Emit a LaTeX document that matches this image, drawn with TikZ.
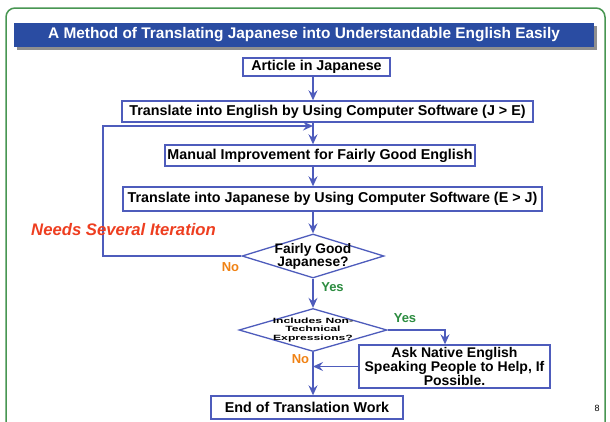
\documentclass[tikz,border=0pt]{standalone}
\usepackage{fontspec}
\setmainfont{Liberation Sans}
\newfontfamily\widefont[FakeStretch=1.6]{Liberation Sans}
\usetikzlibrary{arrows.meta,shapes.geometric,shadows,calc}
\definecolor{lineblue}{RGB}{78,92,188}
\definecolor{titleblue}{RGB}{42,76,162}
\definecolor{framegreen}{RGB}{72,150,82}
\definecolor{itred}{RGB}{238,62,32}
\definecolor{noorange}{RGB}{240,130,20}
\definecolor{yesgreen}{RGB}{44,140,64}
\begin{document}
\begin{tikzpicture}[x=1pt,y=-1pt,
  stepbox/.style={draw=lineblue, line width=1.4pt, fill=white, inner sep=0pt,
    font=\bfseries\fontsize{14.3}{13}\selectfont, text=black, align=center},
  decision/.style={diamond, draw=lineblue, line width=1.3pt, fill=white, inner sep=0pt},
  dtext/.style={inner sep=0pt, align=center, text=black},
  conn/.style={draw=lineblue, line width=1.5pt},
  arr/.style={conn, -{Stealth[length=10pt,width=9pt,inset=3.5pt]}},
  nolabel/.style={inner sep=0pt, text=noorange, font=\bfseries\fontsize{13}{13}\selectfont},
  yeslabel/.style={inner sep=0pt, text=yesgreen, font=\bfseries\fontsize{13}{13}\selectfont}
]
\useasboundingbox (0,0) rectangle (610,421);
\clip (0,0) rectangle (610,421);
\fill[white] (0,0) rectangle (610,421);
% outer frame
\draw[framegreen, line width=1.5pt, rounded corners=9pt] (6,8) rectangle (605,470);
% title bar
\node[fill=titleblue, minimum width=580pt, minimum height=24pt, inner sep=0pt,
  text=white, font=\bfseries\fontsize{15.4}{16}\selectfont,
  drop shadow={shadow xshift=3pt, shadow yshift=-3pt, fill=black!55, opacity=0.8}]
  (title) at (304,35) {A Method of Translating Japanese into Understandable English Easily};
% boxes
\coordinate (col) at (313,0);
\node[stepbox, minimum width=147pt, minimum height=18pt] (art) at (316.5,67) {Article in Japanese};
\node[stepbox, minimum width=411pt, minimum height=21pt] (te) at (327.5,111.5) {Translate into English by Using Computer Software (J > E)};
\node[stepbox, minimum width=310pt, minimum height=21pt] (mi) at (320,155.5) {Manual Improvement for Fairly Good English};
\node[stepbox, minimum width=419pt, minimum height=24pt] (tj) at (332.5,199) {Translate into Japanese by Using Computer Software (E > J)};
\node[decision, minimum width=142pt, minimum height=44pt] (d1) at (313,256) {};
\node[dtext, font=\bfseries\fontsize{13.8}{12}\selectfont] (d1t) at (313,256.5) {Fairly Good\\Japanese?};
\node[decision, minimum width=148pt, minimum height=43pt] (d2) at (313,330) {};
\node[dtext, font=\widefont\bfseries\fontsize{7.6}{8.8}\selectfont] (d2t) at (313,330) {Includes Non-\\Technical\\Expressions?};
\node[stepbox, minimum width=191pt, minimum height=43pt, font=\bfseries\fontsize{14}{13}\selectfont] (ask) at (454.5,366.5) {Ask Native English\\Speaking People to Help, If\\Possible.};
\node[stepbox, minimum width=192pt, minimum height=23pt] (end) at (307,407.5) {End of Translation Work};
% connectors
\draw[arr] (art.south -| col) -- (te.north -| col);
\draw[arr] (te.south -| col) -- (mi.north -| col);
\draw[arr] (mi.south -| col) -- (tj.north -| col);
\draw[arr] (tj.south -| col) -- (d1.north);
\coordinate (lb) at (103,256);
\coordinate (lt) at (103,126);
\coordinate (join) at (313,126);
\draw[arr] (d1.west) -- (lb) -- (lt) -- (join);
\draw[arr] (d1.south) -- (d2.north);
\coordinate (yc) at (445,330);
\draw[arr] (d2.east) -- (yc) -- (yc |- ask.north);
\draw[arr] (ask.west) -- (ask.west -| d2.south);
\draw[arr] (d2.south) -- (d2.south |- end.north);
% labels
\node[anchor=west, inner sep=0pt, text=itred, font=\bfseries\itshape\fontsize{16.7}{16}\selectfont] (iter) at (31,230) {Needs Several Iteration};
\node[nolabel] (no1) at (230.5,267) {No};
\node[yeslabel] (yes1) at (332.5,287) {Yes};
\node[yeslabel] (yes2) at (405,318) {Yes};
\node[nolabel] (no2) at (300.5,359) {No};
\node[inner sep=0pt, font=\fontsize{9}{9}\selectfont] (pg) at (597,408) {8};
\end{tikzpicture}
\end{document}
